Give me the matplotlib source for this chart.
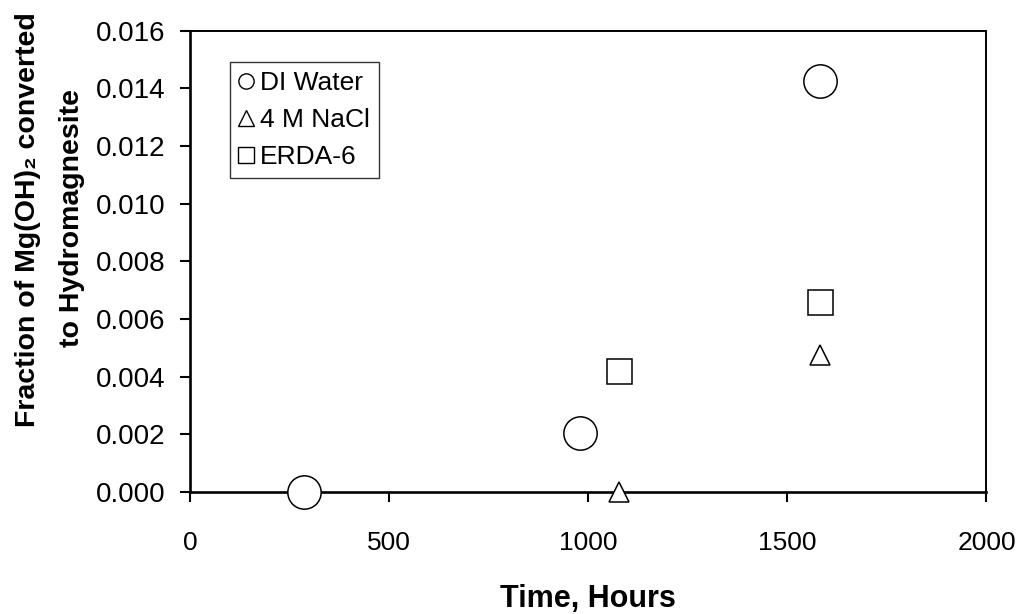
import matplotlib
matplotlib.use("Agg")
import matplotlib.pyplot as plt

# Data
di_hours = [286, 980, 1582]
di_frac = [0.0000, 0.00205, 0.01427]

nacl_hours = [1077, 1582]
nacl_frac = [0.0000, 0.00476]

erda_hours = [1077, 1582]
erda_frac = [0.00418, 0.0066]

x_ticks = [0, 500, 1000, 1500, 2000]
y_ticks = [0.000, 0.002, 0.004, 0.006, 0.008, 0.010, 0.012, 0.014, 0.016]

FONT = ["Liberation Sans", "DejaVu Sans"]
plt.rcParams["font.family"] = FONT

fig = plt.figure(figsize=(10.17, 6.14), dpi=100)
ax = fig.add_axes([0.187, 0.199, 0.783, 0.751])

common = dict(linestyle="none", markerfacecolor="white", markeredgecolor="black",
              markeredgewidth=1.1, clip_on=False, zorder=3)
ax.plot(di_hours, di_frac, marker="o", markersize=24, label="DI Water", **common)
ax.plot(nacl_hours, nacl_frac, marker="^", markersize=14, label="4 M NaCl", **common)
ax.plot(erda_hours, erda_frac, marker="s", markersize=18, label="ERDA-6", **common)

ax.set_xlim(0, 2000)
ax.set_ylim(0, 0.016)
ax.set_xticks(x_ticks)
ax.set_yticks(y_ticks)
ax.set_xticklabels([str(v) for v in x_ticks], fontsize=19)
ax.set_yticklabels([f"{v:.3f}" for v in y_ticks], fontsize=20)
ax.tick_params(direction="out", length=7, width=1.5)
ax.tick_params(axis="y", pad=11)
ax.tick_params(axis="x", pad=21)

for side in ["top", "right"]:
    ax.spines[side].set_linewidth(1.4)
for side in ["left", "bottom"]:
    ax.spines[side].set_linewidth(1.9)

# axis titles placed as in the reference
fig.text(0.578, 0.011, "Time, Hours", fontsize=22, fontweight="bold",
         ha="center", va="baseline")
fig.text(0.028, 0.642, "Fraction of Mg(OH)\u2082 converted", rotation=90,
         fontsize=20.5, fontweight="bold", ha="center", va="center")
fig.text(0.071, 0.645, "to Hydromagnesite", rotation=90,
         fontsize=20.5, fontweight="bold", ha="center", va="center")

leg = ax.legend(loc="upper left", bbox_to_anchor=(0.05, 0.933), fontsize=19,
                frameon=True, fancybox=False, shadow=False, edgecolor="black",
                handlelength=0.55, handletextpad=0.25, borderpad=0.35,
                labelspacing=0.5, borderaxespad=0)
leg.get_frame().set_linewidth(1.0)
for h in leg.legend_handles:
    h.set_markersize(11)
    h.set_markeredgewidth(1.0)

fig.savefig("out.png", dpi=100)
